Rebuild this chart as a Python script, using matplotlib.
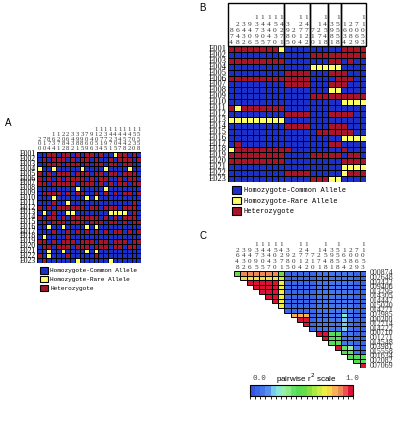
import numpy as np
import matplotlib.pyplot as plt
from matplotlib.colors import ListedColormap, BoundaryNorm
from matplotlib.patches import Patch, Rectangle
from matplotlib.cm import ScalarMappable
from matplotlib.font_manager import FontProperties

# ---- data ----
individuals = ['E%03d' % i for i in range(1, 24)]

# panel A: SNPs in id order
snps_a = ['200', '710', '874', '1634', '1271', '2082', '2648', '3432', '3981', '3985', '7069',
          '9406', '11053', '12714', '13795', '14271', '14305', '14447', '14548', '14722', '15030', '15558']
# B = hom common, Y = hom rare, R = het
geno_a = [
    'BBRRBRRBRBRRBRBBYRRBRB',
    'BRBRRRBRBRRBRBBRBRRRBR',
    'BBRRRBRRRBRBRRBRRBRRBB',
    'YBBYBBBBBYBBBBYBBBBYBB',
    'RBRBRRRBRRRBRRBRRBRRRB',
    'RBRBRBRRRRBRBRRBBRBRRB',
    'RRBRRRRRBRRRBRBRBRRBRR',
    'BBBBBBBBYBBBBBYBBBBBBB',
    'BRRRRBRBRRBBRBRBRBRRBR',
    'BBBYBBBBBBYBYBBBBBBBBB',
    'BBBRBBYBBBBBBBBBBBBBRB',
    'RBRBRRRRRRBRRBRRRBRRRB',
    'BYBRBBYYBBBBBBBYYYYBRB',
    'RBRRBRBRRRRRRBRBRBRRRB',
    'BRBRRRBRRRBRRRBRRBRBRR',
    'BBYBBYBBBBYBYBBBBBBBBB',
    'BBBRBBRBRBRBRBRBRRBRBR',
    'BYBBBBRBBBBBBBBBBBBBBB',
    'RRBRBRRRBRRRBRRBRRRBRR',
    'BRRBRRRBRRRBRRRBRRBRRB',
    'BBYBBYBBBBYBYBBBBBBBBB',
    'RBYBBBRBBBBBRBBBBBBBBB',
    'BRBBBBBBYBBBBBBYBBBBBB',
]

# panel B: SNPs ordered by LD block
snps_b = ['874', '2648', '3432', '9406', '13795', '14305', '14447', '15030', '14271',
          '3985', '200', '12714', '14722',
          '710', '1271', '14548',
          '3981', '15558',
          '1634', '2082', '7069', '11053']
block_sizes = [9, 4, 3, 2, 4]
geno_b = [
    'RRRRRRRRY' 'BBBB' 'BBB' 'BB' 'RRRR',
    'BBBBBBBBB' 'BBBB' 'RRR' 'RR' 'RRRR',
    'RRRRRRRRR' 'BBBB' 'BBB' 'RR' 'BRBB',
    'BBBBBBBBB' 'BBBB' 'YYY' 'YY' 'BBBB',
    'BBBBBBBBB' 'RRRR' 'BBB' 'RR' 'RBBB',
    'RRRRRRRRR' 'RRRR' 'BBB' 'BR' 'RRBB',
    'BBBBBBBBB' 'RRRR' 'BBB' 'RR' 'RBBB',
    'BBBBBBBBB' 'BBBB' 'BBB' 'YY' 'BBBB',
    'BBBBBBBBB' 'BBBB' 'RRR' 'RR' 'RRRR',
    'BBBBBBBBB' 'BBBB' 'BBB' 'BB' 'YYYY',
    'RYRRRRRRR' 'BBBB' 'BBB' 'BB' 'BBBB',
    'BBBBBBBBB' 'RRRR' 'BBB' 'RR' 'RRBB',
    'YYYYYYYYY' 'BBBB' 'BBB' 'BB' 'BBBB',
    'BBBBBBBBB' 'RRRR' 'BBB' 'RR' 'RBBB',
    'BBBBBBBBB' 'BBBB' 'BRR' 'RR' 'RRBB',
    'BBBBBBBBB' 'BBBB' 'BBB' 'BB' 'YYYY',
    'BRBBBBBBB' 'BBBB' 'BBB' 'RR' 'BBBB',
    'YRRRRRRRR' 'RBBB' 'BBB' 'BB' 'RBBB',
    'RRRRRRRRR' 'BBBB' 'RRR' 'RR' 'BRRB',
    'RRRRRRRRR' 'BBBB' 'BBB' 'BB' 'RRRR',
    'BBBBBBBBB' 'BBBB' 'BBB' 'BB' 'YYYY',
    'BBBBBBBBB' 'RRRR' 'BBB' 'BB' 'YRRR',
    'BBBBBBBBB' 'BBBB' 'RRR' 'YY' 'BBBB',
]

# panel C: pairwise r^2, row i holds SNP i vs SNPs i+1 .. end
r2 = [
    [.50, .88, .88, .88, .88, .88, .88, .50, .06, .06, .06, .06, .06, .12, .12, .12, .12, .14, .12, .06, .06],
    [.76, .76, .76, .76, .76, .76, .66, .06, .06, .06, .06, .06, .12, .12, .12, .12, .14, .12, .06, .06],
    [.97, .97, .97, .97, .97, .72, .06, .06, .06, .06, .06, .12, .12, .12, .12, .14, .12, .06, .06],
    [.97, .97, .97, .97, .72, .06, .06, .06, .06, .06, .12, .12, .12, .12, .14, .12, .06, .06],
    [.97, .97, .97, .72, .06, .06, .06, .06, .06, .12, .12, .12, .12, .14, .12, .06, .06],
    [.97, .97, .72, .06, .06, .06, .06, .06, .12, .12, .12, .12, .14, .12, .06, .06],
    [.97, .72, .06, .06, .06, .06, .06, .12, .12, .12, .12, .14, .12, .06, .06],
    [.72, .06, .06, .06, .06, .06, .12, .12, .12, .12, .14, .12, .06, .06],
    [.06, .06, .06, .06, .06, .12, .12, .12, .12, .18, .12, .06, .06],
    [.82, .82, .82, .06, .12, .12, .12, .12, .26, .12, .06, .06],
    [.97, .97, .06, .12, .12, .12, .12, .24, .12, .06, .06],
    [.97, .06, .12, .12, .12, .12, .24, .12, .06, .06],
    [.06, .12, .12, .12, .12, .22, .12, .06, .06],
    [.97, .97, .45, .45, .12, .12, .06, .06],
    [.97, .45, .45, .12, .12, .06, .06],
    [.45, .45, .12, .12, .06, .06],
    [.97, .40, .32, .10, .06],
    [.45, .42, .12, .08],
    [.48, .48, .45],
    [.48, .45],
    [.97],
]

ld_colors = ['#3355e0', '#3a66e8', '#4477ee', '#5590ee', '#77ccee', '#88e8d8', '#99eeaa',
             '#88ee88', '#66e066', '#55dd55', '#66dd44', '#88e040', '#aaea40', '#ccee44',
             '#eeee44', '#f8d848', '#f8b050', '#f08858', '#ee5050', '#dd1133']
geno_colors = {'B': '#1c2fc8', 'Y': '#ffff66', 'R': '#a8142a'}
legend_labels = ['Homozygote-Common Allele', 'Homozygote-Rare Allele', 'Heterozygote']

# ---- figure ----
W, H = 402, 430
fig = plt.figure(figsize=(W / 100, H / 100), dpi=100)
serif = 'Liberation Serif'
mono = 'Liberation Mono'


def px_axes(left, top, right, bottom):
    ax = fig.add_axes([left / W, 1 - bottom / H, (right - left) / W, (bottom - top) / H])
    ax.axis('off')
    return ax


def vertical_labels(ax, labels, size, step, base):
    # digits stacked vertically above each column, bottom aligned
    for i, lab in enumerate(labels):
        for k, ch in enumerate(reversed(lab)):
            ax.annotate(ch, xy=(i + 0.5, 1), xycoords=('data', 'axes fraction'),
                        xytext=(0, base + k * step), textcoords='offset points',
                        ha='center', va='bottom', fontsize=size, family=serif,
                        color='#333333', annotation_clip=False)


def genotype_grid(ax, rows, label_size):
    codes = {'B': 0, 'Y': 1, 'R': 2}
    mat = np.array([[codes[c] for c in r] for r in rows])
    cmap = ListedColormap([geno_colors['B'], geno_colors['Y'], geno_colors['R']])
    ax.pcolormesh(mat, cmap=cmap, vmin=-0.5, vmax=2.5, edgecolors='k', linewidth=0.7)
    ax.set_xlim(0, mat.shape[1])
    ax.set_ylim(mat.shape[0], 0)
    for i, name in enumerate(individuals):
        ax.annotate(name, xy=(0, i + 0.5), xycoords='data', xytext=(-1, 0),
                    textcoords='offset points', ha='right', va='center',
                    fontsize=label_size, family=serif, annotation_clip=False)


def genotype_legend(x, y, size, square):
    handles = [Patch(facecolor=geno_colors[k], edgecolor='k', linewidth=0.8) for k in 'BYR']
    fig.legend(handles, legend_labels, loc='upper left', bbox_to_anchor=(x / W, 1 - y / H),
               frameon=False, prop=FontProperties(family=mono, size=size),
               handlelength=square, handleheight=square, labelspacing=0.35,
               handletextpad=0.4, borderpad=0, borderaxespad=0)


# panel A
fig.text(5 / W, 1 - 123 / H, 'A', fontsize=7, va='center', family='Liberation Sans')
ax_a = px_axes(37, 152, 141, 263)
genotype_grid(ax_a, geno_a, 5.6)
vertical_labels(ax_a, snps_a, 4.8, 3.5, 0.5)
genotype_legend(40, 267, 4.4, 1.3)

# panel B
fig.text(199 / W, 1 - 8 / H, 'B', fontsize=7, va='center', family='Liberation Sans')
ax_b = px_axes(228, 46, 366, 182)
genotype_grid(ax_b, geno_b, 6)
vertical_labels(ax_b, snps_b, 5.4, 4.4, 0.8)
box_h = 43 / 136
start = 0
for n in block_sizes:
    ax_b.add_patch(Rectangle((start, 1), n, box_h, transform=ax_b.get_xaxis_transform(),
                             fill=False, edgecolor='k', linewidth=1, clip_on=False))
    start += n
genotype_legend(232, 186, 5, 1.3)

# panel C
fig.text(200 / W, 1 - 236 / H, 'C', fontsize=7, va='center', family='Liberation Sans')
ax_c = px_axes(234, 271, 366, 368)
cmap_ld = ListedColormap(ld_colors)
norm_ld = BoundaryNorm(np.linspace(0, 1, len(ld_colors) + 1), len(ld_colors))
n_c = len(r2)
for i, row in enumerate(r2):
    ax_c.bar(np.arange(i, n_c), 1, bottom=i, width=1, align='edge',
             color=cmap_ld(norm_ld(np.array(row))), edgecolor='k', linewidth=0.7)
ax_c.set_xlim(0, n_c)
ax_c.set_ylim(n_c, 0)
vertical_labels(ax_c, snps_b[1:], 5.2, 4.1, 1.0)
for i, lab in enumerate(snps_b[:-1]):
    ax_c.annotate('%06d' % int(lab), xy=(n_c, i + 0.5), xycoords='data', xytext=(3, 0),
                  textcoords='offset points', ha='left', va='center',
                  fontsize=5.8, family=serif, color='#333333', annotation_clip=False)

cax = fig.add_axes([250 / W, 1 - 396 / H, 103 / W, 11 / H])
cb = fig.colorbar(ScalarMappable(norm=norm_ld, cmap=cmap_ld), cax=cax, orientation='horizontal')
cb.set_ticks([])
cb.outline.set_linewidth(0.8)
fig.text(253 / W, 1 - 379 / H, '0.0', fontsize=5.5, family=mono, color='#444444', va='center')
fig.text(345 / W, 1 - 379 / H, '1.0', fontsize=5.5, family=mono, color='#444444', va='center')
fig.text(306 / W, 1 - 379 / H, 'pairwise r$^2$ scale', fontsize=5.8, family='Liberation Sans',
         ha='center', va='center')

fig.savefig('out.png', dpi=100)
